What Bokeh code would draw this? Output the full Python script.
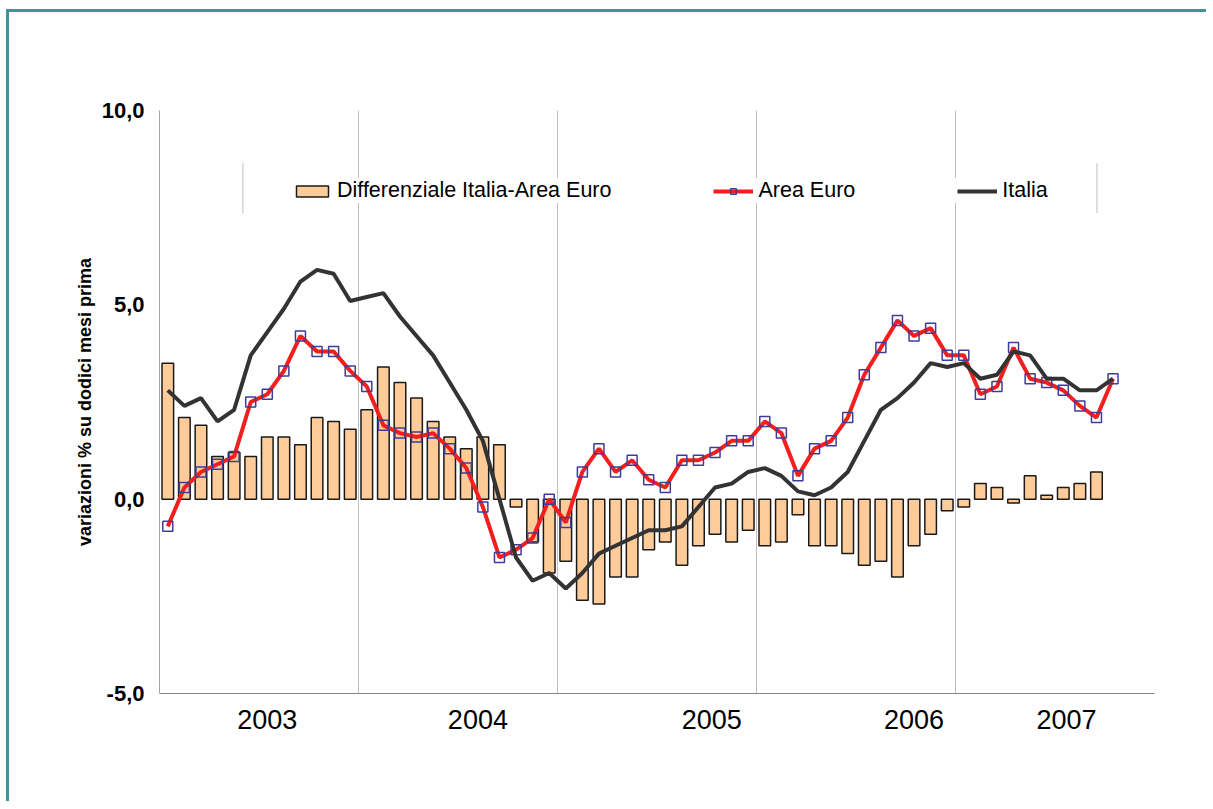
from bokeh.plotting import figure
from bokeh.models import (FixedTicker, Legend, LegendItem, BoxAnnotation,
                          ColumnDataSource, CustomJSTickFormatter)
from bokeh.embed import file_html
from bokeh.resources import INLINE
import numpy as np

# ---- data (monthly, Jan 2003 - Oct 2007) ----
area_euro = [-0.7, 0.3, 0.7, 0.9, 1.1, 2.5, 2.7, 3.3, 4.2, 3.8, 3.8, 3.3,
             2.9, 1.9, 1.7, 1.6, 1.7, 1.3, 0.8, -0.2, -1.5, -1.3, -1.0, 0.0,
             -0.6, 0.7, 1.3, 0.7, 1.0, 0.5, 0.3, 1.0, 1.0, 1.2, 1.5, 1.5,
             2.0, 1.7, 0.6, 1.3, 1.5, 2.1, 3.2, 3.9, 4.6, 4.2, 4.4, 3.7,
             3.7, 2.7, 2.9, 3.9, 3.1, 3.0, 2.8, 2.4, 2.1, 3.1]
italia = [2.8, 2.4, 2.6, 2.0, 2.3, 3.7, 4.3, 4.9, 5.6, 5.9, 5.8, 5.1,
          5.2, 5.3, 4.7, 4.2, 3.7, 3.0, 2.3, 1.5, 0.0, -1.5, -2.1, -1.9,
          -2.3, -1.9, -1.4, -1.2, -1.0, -0.8, -0.8, -0.7, -0.2, 0.3, 0.4, 0.7,
          0.8, 0.6, 0.2, 0.1, 0.3, 0.7, 1.5, 2.3, 2.6, 3.0, 3.5, 3.4,
          3.5, 3.1, 3.2, 3.8, 3.7, 3.1, 3.1, 2.8, 2.8, 3.1]
differenziale = [3.5, 2.1, 1.9, 1.1, 1.2, 1.1, 1.6, 1.6, 1.4, 2.1, 2.0, 1.8,
                 2.3, 3.4, 3.0, 2.6, 2.0, 1.6, 1.3, 1.6, 1.4, -0.2, -1.1, -1.9,
                 -1.6, -2.6, -2.7, -2.0, -2.0, -1.3, -1.1, -1.7, -1.2, -0.9, -1.1, -0.8,
                 -1.2, -1.1, -0.4, -1.2, -1.2, -1.4, -1.7, -1.6, -2.0, -1.2, -0.9, -0.3,
                 -0.2, 0.4, 0.3, -0.1, 0.6, 0.1, 0.3, 0.4, 0.7, float("nan")]
year_labels = ["2003", "2004", "2005", "2006", "2007"]
y_ticks = [-5, 0, 5, 10]

# ---- layout positions (month units) ----
year_label_pos = [6.5, 19.2, 33.3, 45.5, 54.7]
year_bounds = [12, 24, 36, 48]

x = np.arange(len(area_euro)) + 0.5
src = ColumnDataSource(dict(x=x, area=area_euro, ita=italia, diff=differenziale))

p = figure(width=1200, height=792, x_range=(0, 60), y_range=(-5, 10),
           output_backend="svg", toolbar_location=None,
           min_border_left=150, min_border_right=55,
           min_border_top=98, min_border_bottom=111)
p.outline_line_color = None
p.styles = {"margin-left": "6px", "margin-top": "9px",
            "border-top": "3px solid #3d9597", "border-left": "3px solid #3d9597"}

bars = p.vbar(x="x", top="diff", bottom=0, width=0.7, source=src,
              fill_color="#FFCC99", line_color="#1a1a1a", line_width=1.5)
r_line = p.line("x", "area", source=src, color="#F41E1E", line_width=4)
r_mark = p.scatter("x", "area", source=src, marker="square", size=10,
                   fill_color=None, line_color="#3d3d99", line_width=1.5)
k_line = p.line("x", "ita", source=src, color="#333333", line_width=4)

# axes
p.yaxis.ticker = FixedTicker(ticks=y_ticks)
p.yaxis.formatter = CustomJSTickFormatter(code="return tick.toFixed(1).replace('.', ',');")
p.yaxis.major_tick_line_color = None
p.yaxis.minor_tick_line_color = None
p.yaxis.axis_line_color = "#a6a6a6"
p.yaxis.major_label_text_font = "Liberation Sans"
p.yaxis.major_label_text_font_style = "bold"
p.yaxis.major_label_text_font_size = "22px"
p.yaxis.major_label_text_color = "black"
p.yaxis.major_label_standoff = 9
p.yaxis.axis_label = "variazioni % su dodici mesi prima"
p.yaxis.axis_label_text_font = "Liberation Sans"
p.yaxis.axis_label_text_font_style = "bold"
p.yaxis.axis_label_text_font_size = "18px"
p.yaxis.axis_label_text_color = "black"
p.yaxis.axis_label_standoff = 4

p.xaxis.ticker = FixedTicker(ticks=year_label_pos)
p.xaxis.formatter = CustomJSTickFormatter(
    args=dict(pos=year_label_pos, labels=year_labels),
    code="let best=0, d=1e9; for (let i=0;i<pos.length;i++){const dd=Math.abs(pos[i]-tick); if(dd<d){d=dd;best=i;}} return labels[best];")
p.xaxis.major_tick_line_color = None
p.xaxis.minor_tick_line_color = None
p.xaxis.axis_line_color = "#868686"
p.xaxis.major_label_text_font = "Liberation Sans"
p.xaxis.major_label_text_font_size = "27px"
p.xaxis.major_label_text_color = "black"
p.xaxis.major_label_standoff = 10

p.ygrid.visible = False
p.xgrid.ticker = FixedTicker(ticks=year_bounds)
p.xgrid.grid_line_color = "#bfbfbf"
p.xgrid.grid_line_width = 1

# legend
legend = Legend(items=[
    LegendItem(label="Differenziale Italia-Area Euro", renderers=[bars]),
    LegendItem(label="Area Euro", renderers=[r_line, r_mark]),
    LegendItem(label="Italia", renderers=[k_line]),
], orientation="horizontal", location=(133, 490), padding=12, spacing=102,
    label_standoff=5, glyph_width=40, glyph_height=14, margin=0,
    label_text_font="Liberation Sans", label_text_font_size="21.5px",
    label_text_color="black",
    background_fill_color="white", background_fill_alpha=1.0,
    border_line_color=None)
p.add_layout(legend)

# legend side rules
for lx in (5.0, 56.5):
    p.add_layout(BoxAnnotation(left=lx, right=lx + 0.06, bottom=7.36, top=8.64,
                               fill_color="#bfbfbf", fill_alpha=1.0, line_color=None))

open("out.html", "w").write(file_html(p, INLINE))
